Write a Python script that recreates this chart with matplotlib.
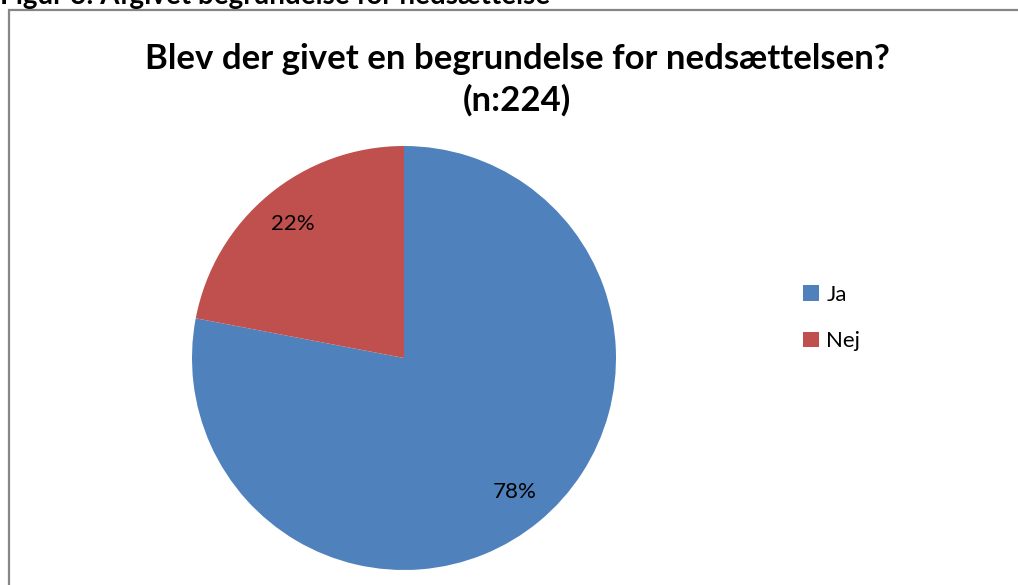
import matplotlib
matplotlib.use("Agg")
import matplotlib.pyplot as plt
from matplotlib.patches import Rectangle

plt.rcParams['font.family'] = ['Lato', 'DejaVu Sans']

labels = ['Ja', 'Nej']
shares = [78, 22]
colors = ['#4F81BD', '#C0504D']
title = 'Blev der givet en begrundelse for nedsættelsen?\n(n:224)'
caption = 'Figur 3: Afgivet begrundelse for nedsættelse'

W, H = 1018, 585
fig = plt.figure(figsize=(W / 100, H / 100), dpi=100)
fig.patch.set_facecolor('white')

# chart frame (runs off the right and bottom edge)
fig.patches.append(Rectangle((9 / W, -0.1), 1.2, 1.1 - 10 / H, transform=fig.transFigure,
                             fill=False, edgecolor='#868686', linewidth=1.6))

# caption above the frame, cut by the top edge
fig.text(0.0, 1 - 4 / H, caption, fontsize=20, fontweight='bold', ha='left', va='baseline')

fig.text(517 / W, 1 - 80 / H, title, fontsize=25, fontweight='bold', ha='center', va='center',
         linespacing=1.35)

# pie: center (404, 358) px, radius 212 px
cx, cy, r = 404, 358, 212
ax = fig.add_axes([(cx - r) / W, (H - cy - r) / H, 2 * r / W, 2 * r / H])
wedges, texts, autotexts = ax.pie(shares, colors=colors, startangle=90, counterclock=False,
                                  autopct='%1.0f%%', pctdistance=0.82,
                                  textprops=dict(fontsize=16, color='black'))
ax.set_xlim(-1, 1)
ax.set_ylim(-1, 1)

ax.legend(wedges, labels, loc='center left', bbox_to_anchor=(783 / W, 1 - 318 / H),
          bbox_transform=fig.transFigure, frameon=False, fontsize=16,
          handlelength=0.7, handleheight=0.7, handletextpad=0.35, labelspacing=1.2)

fig.savefig('out.png', dpi=100, facecolor='white')
